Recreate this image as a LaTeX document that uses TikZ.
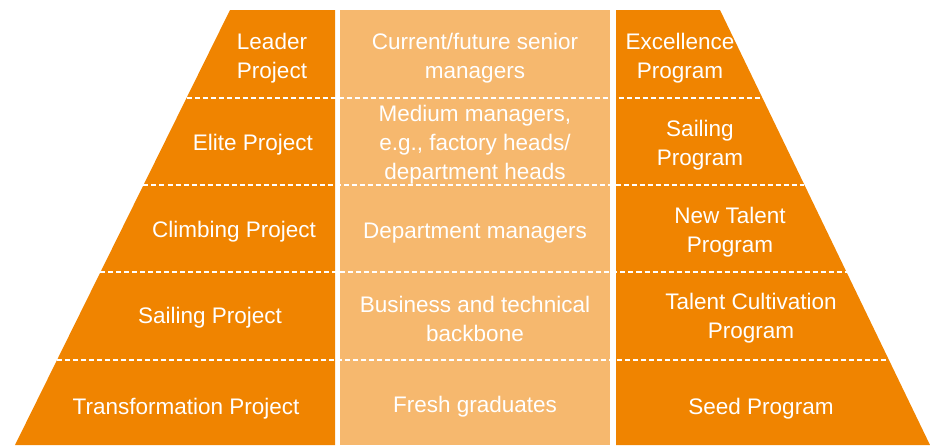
\documentclass[tikz,border=0pt]{standalone}
\usepackage{fontspec}
\setmainfont{Liberation Sans}
\definecolor{deeporange}{RGB}{240,132,0}
\definecolor{softorange}{RGB}{246,184,110}

\begin{document}
\begin{tikzpicture}[x=1pt,y=-1pt,
  lbl/.style={text=white,align=center,inner sep=0pt,yshift=-2pt,font=\fontsize{22.5}{29}\selectfont}]
  % Page frame
  \path[use as bounding box] (0,0) rectangle (930,445);
  % Left trapezoid, middle band, right trapezoid
  \fill[deeporange] (230,10) -- (335,10) -- (335,445) -- (15,445) -- cycle;
  \fill[softorange] (340,10) rectangle (610,445);
  \fill[deeporange] (616,10) -- (720,10) -- (930,445) -- (616,445) -- cycle;
  % Dashed row separators, from slanted edge to slanted edge
  \foreach \y in {98,185,272,360}
    \draw[white,line width=1.4pt,dash pattern=on 5pt off 3pt]
      ({230-0.4943*(\y-10)},\y) -- ({720+0.4828*(\y-10)},\y);
  % Projects
  \node[lbl] (leader) at (272,56) {Leader\\Project};
  \node[lbl] (elite) at (253,143) {Elite Project};
  \node[lbl] (climb) at (234,230) {Climbing Project};
  \node[lbl] (sailp) at (210,316) {Sailing Project};
  \node[lbl] (trans) at (186,407) {Transformation Project};
  % Target groups
  \node[lbl] (senior) at (475,56) {Current/future senior\\managers};
  \node[lbl] (medium) at (475,143) {Medium managers,\\e.g., factory heads/\\department heads};
  \node[lbl] (dept) at (475,231) {Department managers};
  \node[lbl] (backb) at (475,317) {Business and technical\\backbone};
  \node[lbl] (fresh) at (475,405) {Fresh graduates};
  % Programs
  \node[lbl] (excel) at (680,56) {Excellence\\Program};
  \node[lbl] (sailg) at (700,143) {Sailing\\Program};
  \node[lbl] (talent) at (730,230) {New Talent\\Program};
  \node[lbl] (cult) at (751,316) {Talent Cultivation\\Program};
  \node[lbl] (seed) at (761,407) {Seed Program};
\end{tikzpicture}
\end{document}
